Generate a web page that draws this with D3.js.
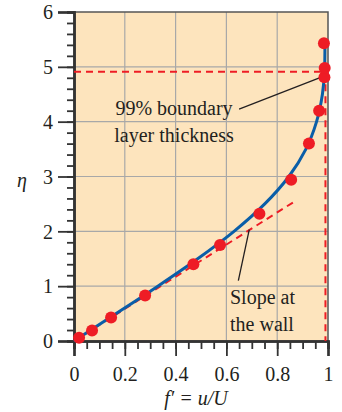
<!DOCTYPE html>
<html>
<head>
<meta charset="utf-8">
<script src="https://cdn.jsdelivr.net/npm/d3@7"></script>
<style>
  body { margin: 0; background: #fff; }
  text { font-family: "Liberation Serif", "DejaVu Serif", serif; fill: #231f20; }
</style>
</head>
<body>
<svg id="chart" width="342" height="412"></svg>
<script>
// Blasius profile (solid curve): eta vs f'
var curveEta = [0, 0.5, 1.0, 1.5, 2.0, 2.5, 3.0, 3.5, 4.0, 4.5, 5.0, 5.4];
var curveF = [0, 0.166, 0.330, 0.487, 0.630, 0.751, 0.846, 0.913, 0.955, 0.978, 0.987, 0.988];

// measured points
var dotF = [0.02, 0.071, 0.146, 0.28, 0.47, 0.575, 0.73, 0.855, 0.925, 0.965, 0.986, 0.987, 0.984];
var dotEta = [0.06, 0.19, 0.43, 0.83, 1.40, 1.75, 2.32, 2.94, 3.60, 4.20, 4.81, 4.98, 5.43];

// slope at the wall
var slopeF = [0, 0.877];
var slopeEta = [0, 2.57];

// 99% thickness
var deltaEta = 4.91;
var deltaF = 0.99;

var xTicks = [0, 0.2, 0.4, 0.6, 0.8, 1];
var yTicks = [0, 1, 2, 3, 4, 5, 6];

const svg = d3.select("#chart");
var x = d3.scaleLinear().domain([0, 1]).range([74, 328]);
var y = d3.scaleLinear().domain([0, 6]).range([341, 12]);

// background
svg.append("rect")
  .attr("x", x(0)).attr("y", y(6))
  .attr("width", x(1) - x(0)).attr("height", y(0) - y(6))
  .attr("fill", "#fde4bd");

// grid
svg.append("g").selectAll("line")
  .data(xTicks.slice(1, -1))
  .join("line")
  .attr("x1", d => x(d)).attr("x2", d => x(d))
  .attr("y1", y(0)).attr("y2", y(6))
  .attr("stroke", "#a8a8a8").attr("stroke-width", 1.2);
svg.append("g").selectAll("line")
  .data(yTicks.slice(1, -1))
  .join("line")
  .attr("y1", d => y(d)).attr("y2", d => y(d))
  .attr("x1", x(0)).attr("x2", x(1))
  .attr("stroke", "#a8a8a8").attr("stroke-width", 1.2);

// frame top/right
svg.append("path")
  .attr("d", `M${x(0)},${y(6)}H${x(1)}V${y(0)}`)
  .attr("fill", "none").attr("stroke", "#555").attr("stroke-width", 1.5);

// axes
var yAxis = d3.axisLeft(y).tickValues(yTicks).tickSize(16).tickFormat(d3.format("d"));
var yMinor = d3.axisLeft(y).tickValues(d3.range(0, 6.01, 0.2)).tickSize(7).tickFormat("");
var xAxis = d3.axisBottom(x).tickValues(xTicks).tickSize(15).tickFormat(d => d === 0 || d === 1 ? d : d3.format(".1f")(d));
var xMinor = d3.axisBottom(x).tickValues(d3.range(0, 1.001, 0.05)).tickSize(8).tickFormat("");

function styleAxis(g) {
  g.select(".domain").attr("stroke", "#333").attr("stroke-width", 2.5);
  g.selectAll(".tick line").attr("stroke", "#333").attr("stroke-width", 1.8);
  g.selectAll("text").style("font-size", "20px").attr("fill", "#231f20");
}

svg.append("g").attr("transform", `translate(${x(0)},0)`).call(yMinor).call(styleAxis);
svg.append("g").attr("transform", `translate(${x(0)},0)`).call(yAxis).call(styleAxis)
  .selectAll("text").attr("x", -21).attr("dy", "0.34em");
svg.append("g").attr("transform", `translate(0,${y(0)})`).call(xMinor).call(styleAxis);
svg.append("g").attr("transform", `translate(0,${y(0)})`).call(xAxis).call(styleAxis)
  .selectAll("text").attr("y", 26).attr("dy", "0.71em");

// 99% lines
svg.append("path")
  .attr("d", `M${x(0)},${y(deltaEta)}H${x(deltaF)}V${y(0)}`)
  .attr("fill", "none").attr("stroke", "#ee1c25").attr("stroke-width", 2)
  .attr("stroke-dasharray", "7,5");

// slope line
svg.append("line")
  .attr("x1", x(slopeF[0])).attr("y1", y(slopeEta[0]))
  .attr("x2", x(slopeF[1])).attr("y2", y(slopeEta[1]))
  .attr("stroke", "#ee1c25").attr("stroke-width", 2)
  .attr("stroke-dasharray", "7,5");

// Blasius curve
var line = d3.line().x(d => x(d[0])).y(d => y(d[1])).curve(d3.curveMonotoneY);
svg.append("path")
  .datum(d3.zip(curveF, curveEta))
  .attr("d", line)
  .attr("fill", "none").attr("stroke", "#0a5ea8").attr("stroke-width", 3);

// pointers
svg.append("line")
  .attr("x1", x(0.65)).attr("y1", y(4.23))
  .attr("x2", x(0.984)).attr("y2", y(4.83))
  .attr("stroke", "#231f20").attr("stroke-width", 1.3);
svg.append("line")
  .attr("x1", x(0.647)).attr("y1", y(1.10))
  .attr("x2", x(0.69)).attr("y2", y(2.03))
  .attr("stroke", "#231f20").attr("stroke-width", 1.3);

// dots
svg.append("g").selectAll("circle")
  .data(d3.zip(dotF, dotEta))
  .join("circle")
  .attr("cx", d => x(d[0])).attr("cy", d => y(d[1]))
  .attr("r", 6)
  .attr("fill", "#ee1c25");

// annotations
var ann = svg.append("g").style("font-size", "20px").attr("text-anchor", "middle");
ann.append("text").attr("x", 174).attr("y", 115).text("99% boundary");
ann.append("text").attr("x", 174).attr("y", 142).text("layer thickness");
var ann2 = svg.append("g").style("font-size", "20px");
ann2.append("text").attr("x", 230).attr("y", 304).text("Slope at");
ann2.append("text").attr("x", 230).attr("y", 331).text("the wall");

// axis titles
svg.append("text").attr("x", 196).attr("y", 405).attr("text-anchor", "middle")
  .style("font-size", "20px").style("font-style", "italic").text("f\u2032 = u/U");
svg.append("text").attr("x", 22).attr("y", 187).attr("text-anchor", "middle")
  .style("font-size", "20px").style("font-style", "italic").text("\u03b7");
</script>
</body>
</html>
